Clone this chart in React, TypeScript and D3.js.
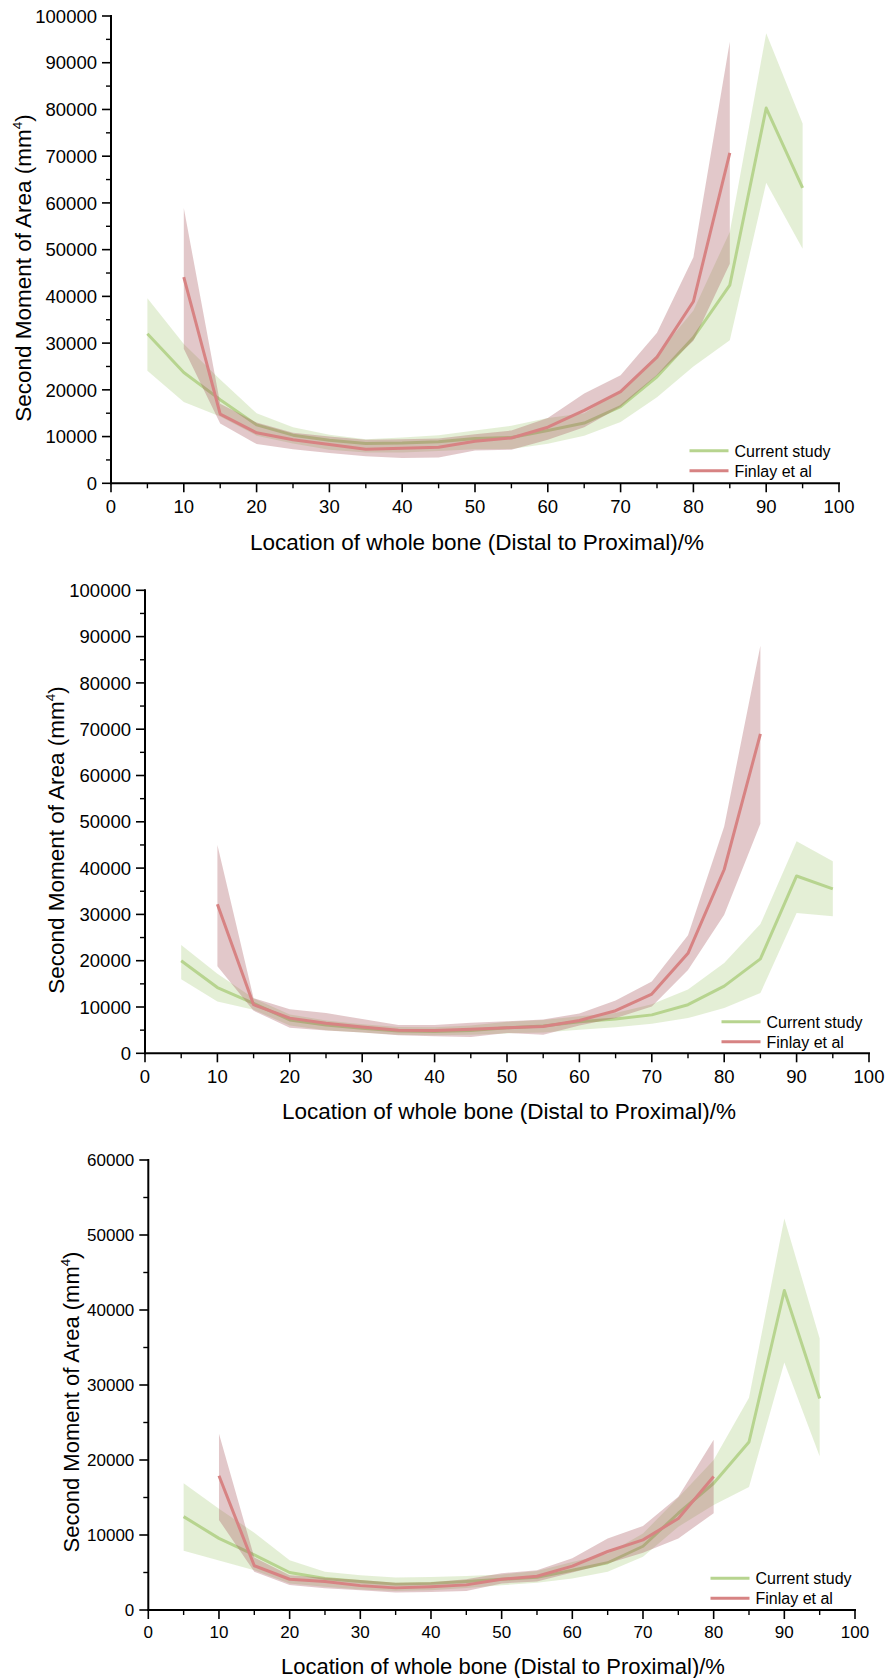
import * as d3 from 'd3';

// positions along the bone (%)
const locCurrent = [5, 10, 15, 20, 25, 30, 35, 40, 45, 50, 55, 60, 65, 70, 75, 80, 85, 90, 95];
const locFinlay = [10, 15, 20, 25, 30, 35, 40, 45, 50, 55, 60, 65, 70, 75, 80, 85];
const locFinlay3 = [10, 15, 20, 25, 30, 35, 40, 45, 50, 55, 60, 65, 70, 75, 80];

// panel 1
const p1CurMean = [32000, 23700, 17900, 12500, 10300, 9200, 8500, 8600, 8900, 9600, 9800, 11300, 12900, 16400, 22800, 31200, 42400, 80300, 63200];
const p1CurHi = [39600, 29800, 22200, 15000, 12000, 10400, 9400, 9800, 10300, 11300, 12300, 14000, 15000, 19800, 27500, 37000, 53800, 96300, 77000];
const p1CurLo = [24100, 17400, 14300, 10200, 8500, 7200, 6600, 6600, 6900, 7300, 7350, 8450, 10200, 13100, 18400, 25000, 30600, 64300, 50200];
const p1FinMean = [44100, 14800, 10800, 9300, 8300, 7300, 7500, 7700, 9000, 9700, 12000, 15600, 19600, 27000, 38900, 70700];
const p1FinHi = [58900, 17000, 13000, 10800, 10000, 9300, 9400, 9600, 10500, 11300, 14000, 19200, 23100, 32200, 48400, 94500];
const p1FinLo = [28800, 12800, 8400, 7300, 6500, 5800, 5400, 5500, 7000, 7200, 9300, 12000, 16400, 23100, 30500, 47000];

// panel 2
const p2CurMean = [20000, 14200, 10800, 7200, 6100, 5400, 4800, 4700, 4900, 5500, 5900, 6800, 7400, 8300, 10500, 14500, 20400, 38300, 35500];
const p2CurHi = [23400, 17200, 11900, 8400, 7100, 6300, 5700, 5600, 6000, 6800, 7200, 8000, 8700, 10600, 13800, 19500, 27900, 45800, 41500];
const p2CurLo = [16000, 11200, 9400, 6000, 5000, 4500, 4000, 3900, 4000, 4300, 4500, 5100, 5600, 6400, 7600, 9800, 13000, 30300, 29600];
const p2FinMean = [32200, 10500, 7600, 6500, 5700, 5000, 4900, 5200, 5500, 5800, 7100, 9200, 12800, 21600, 39700, 69000];
const p2FinHi = [45000, 11900, 9500, 8700, 7400, 6100, 6100, 6600, 6900, 7300, 8600, 11400, 15500, 25500, 49000, 88000];
const p2FinLo = [18800, 9200, 5500, 4900, 4500, 3900, 3700, 3500, 4400, 4000, 6000, 7600, 10100, 18000, 29900, 49600];

// panel 3
const p3CurMean = [12450, 9550, 7350, 5000, 4200, 3800, 3450, 3550, 3800, 4100, 4350, 5300, 6300, 8500, 12900, 16900, 22400, 42600, 28200];
const p3CurHi = [16900, 13500, 10300, 6650, 5100, 4650, 4350, 4400, 4550, 4750, 5200, 6400, 7500, 10200, 15000, 20000, 28300, 52200, 36200];
const p3CurLo = [7900, 6600, 5300, 3550, 3100, 2750, 2550, 2650, 2950, 3300, 3650, 4200, 5100, 7100, 11100, 14000, 16400, 33000, 20500];
const p3FinMean = [17900, 5900, 4100, 3800, 3250, 2950, 3100, 3350, 4100, 4500, 5850, 7800, 9350, 12200, 17800];
const p3FinHi = [23500, 7000, 4650, 4300, 4000, 3650, 3700, 4100, 4900, 5300, 6900, 9550, 11200, 15100, 22700];
const p3FinLo = [12000, 5100, 3350, 2900, 2650, 2350, 2400, 2550, 3550, 3800, 5000, 6200, 7650, 9550, 12900];

const xTicks = [0, 10, 20, 30, 40, 50, 60, 70, 80, 90, 100];
const yTicks100k = [0, 10000, 20000, 30000, 40000, 50000, 60000, 70000, 80000, 90000, 100000];
const yTicks60k = [0, 10000, 20000, 30000, 40000, 50000, 60000];

const seriesNames = ['Current study', 'Finlay et al'];
const xTitle = 'Location of whole bone (Distal to Proximal)/%';

const GREEN = '#b7d48f';
const GREEN_BAND = '#c3dca3';
const RED = '#d78383';
const RED_BAND = '#a8585e';
const FONT = 'Liberation Sans, Arial, sans-serif';

type Series = { x: number[]; mean: number[]; hi: number[]; lo: number[] };

type PanelProps = {
  left: number; right: number; top: number; bottom: number;
  yMax: number; yTicks: number[];
  cur: Series; fin: Series;
  fs: number; titleFs: number;
  yTitleX: number; yTitleY: number;
  xTitleX: number; xTitleY: number; xLabelY: number;
  legX: number; legY: number;
};

function minorOf(major: number[]) {
  return major.slice(1).map((v, i) => (v + major[i]) / 2);
}

function Panel(p: PanelProps) {
  const x = d3.scaleLinear().domain([0, 100]).range([p.left, p.right]);
  const y = d3.scaleLinear().domain([0, p.yMax]).range([p.bottom, p.top]);

  const band = (s: Series) =>
    d3.area<number>()
      .x((_, i) => x(s.x[i]))
      .y0((_, i) => y(s.lo[i]))
      .y1((_, i) => y(s.hi[i]))(s.x) || '';
  const line = (s: Series) =>
    d3.line<number>()
      .x((_, i) => x(s.x[i]))
      .y((_, i) => y(s.mean[i]))(s.x) || '';

  return (
    <g fontFamily={FONT} fill="#000">
      <path d={band(p.cur)} fill={GREEN_BAND} fillOpacity={0.45} />
      <path d={line(p.cur)} fill="none" stroke={GREEN} strokeWidth={3} strokeLinejoin="round" />
      <path d={band(p.fin)} fill={RED_BAND} fillOpacity={0.33} />
      <path d={line(p.fin)} fill="none" stroke={RED} strokeWidth={3} strokeLinejoin="round" />

      {/* axes */}
      <line x1={p.left} x2={p.left} y1={p.top - 1} y2={p.bottom + 1} stroke="#000" strokeWidth={2} />
      <line x1={p.left - 1} x2={p.right + 1} y1={p.bottom} y2={p.bottom} stroke="#000" strokeWidth={2} />

      {p.yTicks.map(t => (
        <g key={'y' + t}>
          <line x1={p.left - 9} x2={p.left} y1={y(t)} y2={y(t)} stroke="#000" strokeWidth={1.6} />
          <text x={p.left - 14} y={y(t)} dy="0.36em" textAnchor="end" fontSize={p.fs}>{t}</text>
        </g>
      ))}
      {minorOf(p.yTicks).map(t => (
        <line key={'ym' + t} x1={p.left - 5} x2={p.left} y1={y(t)} y2={y(t)} stroke="#000" strokeWidth={1.4} />
      ))}
      {xTicks.map(t => (
        <g key={'x' + t}>
          <line x1={x(t)} x2={x(t)} y1={p.bottom} y2={p.bottom + 9} stroke="#000" strokeWidth={1.6} />
          <text x={x(t)} y={p.xLabelY} textAnchor="middle" fontSize={p.fs}>{t}</text>
        </g>
      ))}
      {minorOf(xTicks).map(t => (
        <line key={'xm' + t} x1={x(t)} x2={x(t)} y1={p.bottom} y2={p.bottom + 5} stroke="#000" strokeWidth={1.4} />
      ))}

      {/* titles */}
      <text transform={`translate(${p.yTitleX},${p.yTitleY}) rotate(-90)`} textAnchor="middle" fontSize={p.titleFs}>
        Second Moment of Area (mm<tspan dy={-p.titleFs * 0.4} fontSize={p.titleFs * 0.6}>4</tspan><tspan dy={p.titleFs * 0.4}>)</tspan>
      </text>
      <text x={p.xTitleX} y={p.xTitleY} textAnchor="middle" fontSize={p.titleFs}>{xTitle}</text>

      {/* legend */}
      {seriesNames.map((name, i) => (
        <g key={name}>
          <line x1={p.legX} x2={p.legX + 39} y1={p.legY + i * 20} y2={p.legY + i * 20}
            stroke={i === 0 ? GREEN : RED} strokeWidth={3} />
          <text x={p.legX + 45} y={p.legY + i * 20 + 5.8} fontSize={16}>{name}</text>
        </g>
      ))}
    </g>
  );
}

export default function App() {
  return (
    <svg width={889} height={1678} style={{ position: 'absolute', left: 0, top: 0, background: '#fff' }}>
      <rect width={889} height={1678} fill="#fff" />
      <Panel left={111} right={839} top={16} bottom={483.3} yMax={100000} yTicks={yTicks100k}
        cur={{ x: locCurrent, mean: p1CurMean, hi: p1CurHi, lo: p1CurLo }}
        fin={{ x: locFinlay, mean: p1FinMean, hi: p1FinHi, lo: p1FinLo }}
        fs={18.5} titleFs={22.5} yTitleX={31} yTitleY={268} xTitleX={477} xTitleY={549.5} xLabelY={512.7}
        legX={689.5} legY={450.7} />
      <Panel left={145} right={869} top={590.3} bottom={1053.3} yMax={100000} yTicks={yTicks100k}
        cur={{ x: locCurrent, mean: p2CurMean, hi: p2CurHi, lo: p2CurLo }}
        fin={{ x: locFinlay, mean: p2FinMean, hi: p2FinHi, lo: p2FinLo }}
        fs={18.5} titleFs={22.5} yTitleX={64} yTitleY={840} xTitleX={509} xTitleY={1119} xLabelY={1083.3}
        legX={721.5} legY={1021.7} />
      <Panel left={148.3} right={855} top={1160} bottom={1610} yMax={60000} yTicks={yTicks60k}
        cur={{ x: locCurrent, mean: p3CurMean, hi: p3CurHi, lo: p3CurLo }}
        fin={{ x: locFinlay3, mean: p3FinMean, hi: p3FinHi, lo: p3FinLo }}
        fs={17} titleFs={22} yTitleX={79} yTitleY={1402} xTitleX={503} xTitleY={1674} xLabelY={1638.3}
        legX={710.5} legY={1578.3} />
    </svg>
  );
}
